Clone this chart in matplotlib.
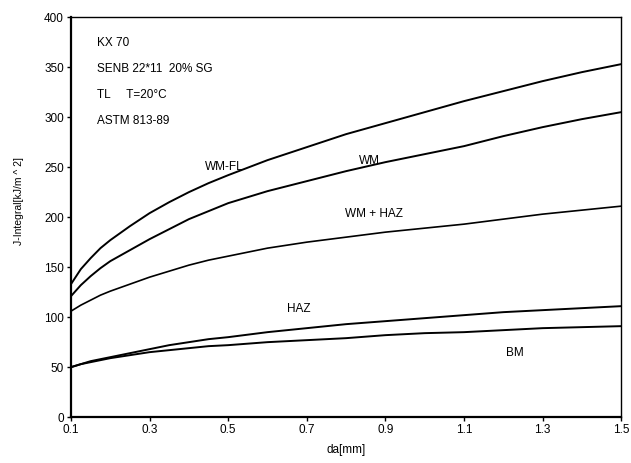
import matplotlib.pyplot as plt

plt.rcParams['font.family'] = ['Liberation Sans', 'DejaVu Sans']

da = [0.1, 0.125, 0.15, 0.175, 0.2, 0.25, 0.3, 0.35, 0.4, 0.45, 0.5,
      0.6, 0.7, 0.8, 0.9, 1.0, 1.1, 1.2, 1.3, 1.4, 1.5]

wm_fl = [133, 148, 159, 169, 177, 191, 204, 215, 225, 234, 242,
         257, 270, 283, 294, 305, 316, 326, 336, 345, 353]
wm = [121, 132, 141, 149, 156, 167, 178, 188, 198, 206, 214,
      226, 236, 246, 255, 263, 271, 281, 290, 298, 305]
wm_haz = [106, 112, 117, 122, 126, 133, 140, 146, 152, 157, 161,
          169, 175, 180, 185, 189, 193, 198, 203, 207, 211]
haz = [50, 53, 56, 58, 60, 64, 68, 72, 75, 78, 80,
       85, 89, 93, 96, 99, 102, 105, 107, 109, 111]
bm = [50, 53, 55, 57, 59, 62, 65, 67, 69, 71, 72,
      75, 77, 79, 82, 84, 85, 87, 89, 90, 91]

info_lines = ["KX 70", "SENB 22*11  20% SG", "TL     T=20°C", "ASTM 813-89"]

fig = plt.figure(figsize=(6.31, 4.63), dpi=100)
ax = fig.add_axes([0.1125, 0.099, 0.872, 0.864])

for series, lw in [(wm_fl, 1.4), (wm, 1.4), (wm_haz, 1.2), (haz, 1.4), (bm, 1.4)]:
    ax.plot(da, series, color='black', lw=lw, solid_joinstyle='round')

ax.text(0.49, 250, "WM-FL", fontsize=8.5, ha='center', va='center')
ax.text(0.86, 256, "WM", fontsize=8.5, ha='center', va='center')
ax.text(0.87, 203, "WM + HAZ", fontsize=8.5, ha='center', va='center')
ax.text(0.68, 108, "HAZ", fontsize=8.5, ha='center', va='center')
ax.text(1.23, 64, "BM", fontsize=8.5, ha='center', va='center')

for i, line in enumerate(info_lines):
    ax.text(0.165, 374 - i * 26, line, fontsize=8.5, ha='left', va='center')

ax.set_xlim(0.1, 1.5)
ax.set_ylim(0, 400)
ax.set_xticks([0.1, 0.3, 0.5, 0.7, 0.9, 1.1, 1.3, 1.5])
ax.set_xticklabels(["0.1", "0.3", "0.5", "0.7", "0.9", "1.1", "1.3", "1.5"])
ax.set_yticks(range(0, 401, 50))
ax.tick_params(direction='out', length=3, width=1, labelsize=8.5, pad=2)

ax.spines['left'].set_linewidth(1.6)
ax.spines['bottom'].set_linewidth(1.6)
ax.spines['top'].set_linewidth(1.0)
ax.spines['right'].set_linewidth(1.0)

ax.set_xlabel("da[mm]", fontsize=8.5, labelpad=6)
ax.set_ylabel("J-Integral[kJ/m ^ 2]", fontsize=7.5, labelpad=10)
ax.yaxis.set_label_coords(-0.085, 0.54)

fig.savefig("out.png", dpi=100)
